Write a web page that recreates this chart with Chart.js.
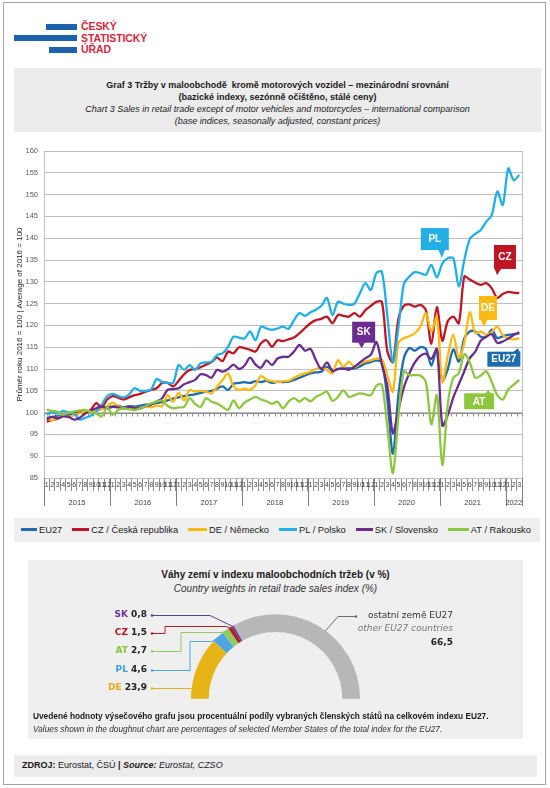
<!DOCTYPE html>
<html>
<head>
<meta charset="utf-8">
<script src="https://cdn.jsdelivr.net/npm/chart.js@4.4.1/dist/chart.umd.min.js"></script>
<style>
  body { margin: 0; background: #fff; }
  #page { position: relative; width: 550px; height: 788px; overflow: hidden;
          font-family: 'Liberation Sans', Arial, sans-serif; color: #1a1a1a; }
  .abs { position: absolute; }
  .frame { left: 3px; top: 2px; width: 541px; height: 781px; border: 1px solid #a6a6a6; }
  .bar { background: #1d62ad; height: 6px; }
  .logo { left: 81px; top: 21px; color: #d7263d; font-weight: bold; font-size: 10.5px; line-height: 11.5px; letter-spacing: -0.1px; }
  .band { background: #ececec; }
  .title { left: 14px; top: 68px; width: 527px; height: 64px; text-align: center; font-size: 9px; line-height: 11.7px; }
  .title .b { font-weight: bold; }
  .title .i { font-style: italic; }
  .legend { left: 14px; top: 518px; width: 526px; height: 24px; background: #efefef; font-size: 9.3px;
            display: flex; justify-content: space-between; align-items: center; box-sizing: border-box; padding: 0 9px 0 7px; }
  .lg { white-space: nowrap; }
  .lg i { display: inline-block; height: 2.5px; vertical-align: middle; margin-right: 2px; position: relative; top: -1px; }
  .weights { left: 28px; top: 560px; width: 495px; height: 179px; background: #efefef; }
  .wt1 { left: 0; top: 9px; width: 495px; text-align: center; font-weight: bold; font-size: 10px; }
  .wt2 { left: 0; top: 23px; width: 495px; text-align: center; font-style: italic; font-size: 10px; color: #333; }
  .note1 { left: 5px; top: 151px; font-weight: bold; font-size: 8.3px; white-space: nowrap; }
  .note2 { left: 5px; top: 164px; font-style: italic; font-size: 8.3px; color: #333; white-space: nowrap; }
  .source { left: 14px; top: 755px; width: 523px; height: 22px; background: #ececec; font-size: 9px; }
  .source span { position: absolute; left: 8px; top: 5px; white-space: nowrap; }
</style>
</head>
<body>
<div id="page">
  <div class="abs frame"></div>

  <div class="abs bar" style="left:46px;top:24px;width:31px;"></div>
  <div class="abs bar" style="left:14px;top:35px;width:63px;"></div>
  <div class="abs bar" style="left:49px;top:47px;width:28px;"></div>
  <div class="abs logo">ČESKÝ<br>STATISTICKÝ<br>ÚŘAD</div>

  <div class="abs band title">
    <div class="b" style="margin-top:12px">Graf 3 Tržby v maloobchodě&nbsp; kromě motorových vozidel – mezinárodní srovnání</div>
    <div class="b">(bazické indexy, sezónně očištěno, stálé ceny)</div>
    <div class="i" style="margin-top:1px">Chart 3 Sales in retail trade except of motor vehicles and motorcycles – international comparison</div>
    <div class="i">(base indices, seasonally adjusted, constant prices)</div>
  </div>

  <canvas id="lines" class="abs" width="550" height="370" style="left:0;top:140px;width:550px;height:370px;"></canvas>

  <div class="abs legend" id="legend"></div>

  <div class="abs weights">
    <div class="abs wt1">Váhy zemí v indexu maloobchodních tržeb (v %)</div>
    <div class="abs wt2">Country weights in retail trade sales index (%)</div>
    <canvas id="weights" class="abs" width="495" height="179" style="left:0;top:0;width:495px;height:179px;"></canvas>
    <div class="abs note1">Uvedené hodnoty výsečového grafu jsou procentuální podíly vybraných členských států na celkovém indexu EU27.</div>
    <div class="abs note2">Values shown in the doughnut chart are percentages of selected Member States of the total index for the EU27.</div>
  </div>

  <div class="abs source"><span><b>ZDROJ:</b> Eurostat, ČSÚ <b>|</b> <b><i>Source:</i></b> <i>Eurostat, CZSO</i></span></div>
</div>

<script>
// categories: monthly, Jan 2015 .. Mar 2022
const YEARS = [2015, 2016, 2017, 2018, 2019, 2020, 2021, 2022];
const MONTHS_PER_YEAR = [12, 12, 12, 12, 12, 12, 12, 3];
const MONTH_NUMBERS = [];
const MONTH_YEARS = [];
YEARS.forEach((year, k) => {
  for (let m = 1; m <= MONTHS_PER_YEAR[k]; m++) { MONTH_NUMBERS.push(m); MONTH_YEARS.push(year); }
});
const CATEGORIES = MONTH_NUMBERS.map((m, i) => MONTH_YEARS[i] + '-' + m);

// base indices, average of 2016 = 100
const EU27 = [
  98.8, 99.0, 99.2, 99.3, 99.6, 99.8, 100.0, 100.2, 100.4, 100.6, 100.9, 101.2,
  101.4, 101.6, 101.2, 101.5, 101.4, 101.6, 101.8, 102.0, 102.2, 102.4, 102.8, 103.2,
  103.5, 103.8, 104.0, 104.2, 104.5, 104.8, 105.0, 105.5, 106.0, 105.2, 106.6, 106.8,
  107.0, 106.8, 107.2, 107.0, 107.3, 106.8, 107.1, 107.0, 107.1, 107.5, 108.0, 108.5,
  109.0, 109.2, 109.4, 110.5, 109.8, 110.0, 110.1, 110.2, 110.1, 110.6, 111.3, 111.6,
  112.0, 111.5, 103.0, 90.6, 104.0, 112.5, 114.8, 114.2, 115.0, 114.6, 110.8, 114.6,
  107.3, 110.0, 114.5, 111.7, 117.0, 118.6, 118.6, 117.4, 117.4, 119.0, 117.1, 117.5,
  117.8, 118.0, 118.2
];
const CZ = [
  97.9, 98.3, 98.6, 99.2, 99.0, 99.6, 100.3, 100.0, 100.6, 102.2, 101.2, 103.0,
  103.8, 103.4, 103.0, 103.5, 104.0, 104.3, 104.8, 105.2, 105.6, 106.8, 106.8, 106.0,
  107.3, 108.8, 109.8, 110.0, 110.4, 111.0, 111.6, 112.6, 111.8, 114.0, 113.6, 115.0,
  114.8, 114.4, 114.0, 115.9, 116.6, 115.1, 116.6, 116.4, 116.8, 117.2, 118.2, 119.4,
  120.5, 121.2, 121.5, 122.0, 120.5, 122.4, 122.2, 122.0, 122.8, 122.0, 123.5, 124.5,
  125.4, 125.4, 114.0, 111.6, 121.5, 124.5, 124.8, 124.3, 124.7, 123.5, 115.8, 124.2,
  116.5, 121.0, 122.0, 120.5, 131.2, 130.5, 129.8, 129.3, 129.7, 128.5, 126.3, 127.2,
  127.7, 127.5, 127.4
];
const DE = [
  98.6, 98.3, 98.8, 99.3, 99.0, 99.5, 99.8, 100.2, 100.0, 100.5, 100.8, 101.5,
  102.3, 101.5, 101.0, 100.8, 101.2, 101.0, 101.4, 101.2, 101.6, 101.5, 104.0, 102.5,
  104.5, 102.8, 105.2, 104.8, 105.0, 104.8, 104.4, 106.0, 107.5, 109.0, 106.0, 105.2,
  105.5, 105.2, 106.3, 108.4, 107.5, 107.2, 107.0, 107.2, 107.3, 108.0, 108.6, 109.0,
  109.4, 110.0, 110.3, 109.8, 109.0, 112.0, 110.5, 111.7, 110.4, 111.3, 111.7, 112.0,
  112.4, 112.2, 108.5, 104.8, 116.0, 117.1, 117.5, 118.2, 119.7, 122.8, 118.6, 122.0,
  107.0, 113.0, 117.8, 112.5, 116.0, 123.0, 118.2, 118.6, 117.8, 118.5, 119.7, 117.8,
  117.0, 116.8, 117.1
];
const PL = [
  99.5, 100.2, 99.8, 100.4, 100.0, 99.8, 98.4, 98.8, 99.3, 100.2, 101.8, 103.8,
  104.3, 103.8, 103.5, 104.2, 105.6, 105.0, 105.0, 105.3, 107.7, 107.0, 106.8, 106.8,
  110.9, 109.8, 110.9, 109.8, 111.3, 111.5, 111.7, 113.2, 113.6, 115.1, 117.4, 117.2,
  117.0, 118.6, 116.6, 119.7, 119.3, 119.0, 119.3, 119.7, 119.2, 121.2, 122.8, 122.2,
  123.0, 123.6, 124.5, 126.3, 122.4, 125.4, 125.0, 124.7, 125.0, 127.4, 129.7, 128.1,
  132.0, 132.3, 122.0, 111.5, 119.5, 129.5, 131.2, 132.2, 132.0, 131.6, 133.9, 131.0,
  134.2, 135.4, 135.4, 128.9, 135.0, 139.8, 141.0, 141.9, 143.8, 145.3, 150.7, 147.6,
  156.0, 153.3, 154.5
];
const SK = [
  98.5, 99.0, 98.7, 99.2, 99.0, 98.4, 98.8, 99.8, 100.5, 101.0, 101.4, 101.0,
  101.3, 101.2, 101.0, 101.3, 101.1, 101.0, 101.5, 101.8, 102.5, 103.3, 105.2, 105.4,
  105.6, 106.5, 107.0, 107.5, 108.8, 108.6, 108.0, 109.8, 109.4, 110.0, 111.0, 110.0,
  110.8, 112.6, 111.0, 110.3, 112.0, 110.9, 112.4, 112.8, 112.8, 114.0, 115.5, 114.2,
  114.6, 112.0, 110.0, 111.5, 109.5, 110.0, 110.1, 109.8, 110.5, 111.5, 112.5, 113.3,
  116.2, 111.0, 106.0, 95.3, 100.5, 105.8, 109.0, 111.5, 113.0, 113.5, 112.3, 114.6,
  97.0, 99.5, 103.5, 106.5, 109.5, 112.5, 114.0, 116.5, 117.4, 118.0, 116.0, 116.3,
  117.0, 117.8, 118.4
];
const AT = [
  100.6, 100.4, 100.2, 99.5, 100.0, 100.3, 100.5, 100.6, 100.2, 99.8, 99.1, 101.3,
  99.5, 100.6, 101.0, 100.8, 100.6, 101.0, 101.5, 102.1, 102.5, 102.8, 101.5, 101.0,
  101.2, 101.3, 103.3, 102.0, 101.3, 103.3, 102.5, 102.1, 101.3, 100.6, 102.8, 101.0,
  102.3, 103.0, 103.6, 103.0, 102.6, 102.0, 102.5, 101.0, 102.5, 103.3, 102.5, 103.3,
  102.6, 103.6, 104.2, 104.8, 102.7, 103.6, 105.1, 103.6, 104.0, 104.4, 104.2, 104.0,
  106.2, 106.4, 96.5, 86.1, 99.0, 109.5, 108.6, 108.6, 108.5, 107.0, 97.3, 104.0,
  88.0, 102.0, 108.0, 109.0, 113.4, 111.5, 108.0, 108.5, 109.5, 107.0, 104.0, 103.0,
  105.3, 106.4, 107.5
];

const Y_MIN = 85;
const Y_MAX = 160;
const Y_STEP = 5;
const BASE_VALUE = 100;

// country weights in EU27 retail index (%)
const WEIGHT_CODES = ['DE', 'PL', 'AT', 'CZ', 'SK', 'ostatní země EU27'];
const WEIGHTS = [23.9, 4.6, 2.7, 1.5, 0.8, 66.5];

const FONT = "'Liberation Sans', Arial, sans-serif";
Chart.defaults.font.family = FONT;

const SERIES = [
  { code: 'EU27', legend: 'EU27', values: EU27, color: '#1c6cb2' },
  { code: 'CZ', legend: 'CZ / Česká republika', values: CZ, color: '#be1622' },
  { code: 'DE', legend: 'DE / Německo', values: DE, color: '#fbb912' },
  { code: 'PL', legend: 'PL / Polsko', values: PL, color: '#22afe6' },
  { code: 'SK', legend: 'SK / Slovensko', values: SK, color: '#6a2c8f' },
  { code: 'AT', legend: 'AT / Rakousko', values: AT, color: '#8dc63f' },
];
const colorOf = code => SERIES.find(s => s.code === code).color;

// legend (html)
const LEGEND_SWATCH = [16, 17, 19, 18, 17, 21];
document.getElementById('legend').innerHTML = SERIES.map((s, i) =>
  `<span class="lg"><i style="width:${LEGEND_SWATCH[i]}px;background:${s.color}"></i>${s.legend}</span>`
).join('');

// callout labels, placed in data units (month index, index value)
const CALLOUTS = [
  { code: 'PL', at: [70.63, 139.8], size: [28, 22], tip: [7, 19] },
  { code: 'CZ', at: [83.4, 135.7], size: [22, 24], tip: [-8, 18] },
  { code: 'DE', at: [80.3, 124.0], size: [18, 24], tip: [-4, 19] },
  { code: 'SK', at: [57.68, 118.44], size: [23, 21], tip: [-2, 16] },
  { code: 'EU27', at: [83.2, 112.25], size: [33, 15], tip: [14, -11] },
  { code: 'AT', at: [78.7, 102.6], size: [30, 16], tip: [9, -11] },
];

function seg(ctx, x1, y1, x2, y2) {
  ctx.beginPath(); ctx.moveTo(x1, y1); ctx.lineTo(x2, y2); ctx.stroke();
}

const axisDecor = {
  id: 'axisDecor',
  beforeDatasetsDraw(chart) {
    const { ctx, chartArea: a, scales: { x, y } } = chart;
    const n = CATEGORIES.length;
    const step = x.getPixelForValue(1) - x.getPixelForValue(0);
    ctx.save();
    ctx.lineWidth = 1;
    ctx.strokeStyle = '#bfbfbf';
    seg(ctx, Math.round(a.right) + 0.5, a.top, Math.round(a.right) + 0.5, a.bottom);
    // category axis crossing at 100
    const yb = Math.round(y.getPixelForValue(BASE_VALUE)) + 0.5;
    ctx.strokeStyle = '#8c8c8c';
    seg(ctx, a.left, yb, a.right, yb);
    for (let i = 0; i <= n; i++) {
      const bx = Math.round(x.getPixelForValue(i) - step / 2) + 0.5;
      seg(ctx, bx, yb, bx, yb + 3);
    }
    ctx.restore();
  },
  afterDraw(chart) {
    const { ctx, chartArea: a, scales: { x } } = chart;
    const n = CATEGORIES.length;
    const step = x.getPixelForValue(1) - x.getPixelForValue(0);
    ctx.save();
    ctx.strokeStyle = '#7f7f7f';
    ctx.lineWidth = 1;
    ctx.fillStyle = '#404040';
    ctx.font = '7.5px ' + FONT;
    ctx.textAlign = 'center';
    ctx.textBaseline = 'middle';
    let first = 0;
    YEARS.forEach((year, k) => {
      const last = first + MONTHS_PER_YEAR[k] - 1;
      const x0 = x.getPixelForValue(first) - step / 2;
      const x1 = x.getPixelForValue(last) + step / 2;
      const bx = Math.round(x0) + 0.5;
      seg(ctx, bx, a.bottom, bx, a.bottom + 28);
      if (last === n - 1) seg(ctx, Math.round(x1) + 0.5, a.bottom, Math.round(x1) + 0.5, a.bottom + 28);
      ctx.fillText(String(year), (x0 + x1) / 2, a.bottom + 25);
      first = last + 1;
    });
    ctx.restore();
  },
};

const callouts = {
  id: 'callouts',
  afterDatasetsDraw(chart) {
    const { ctx, scales: { x, y } } = chart;
    ctx.save();
    ctx.font = 'bold 10px ' + FONT;
    ctx.textAlign = 'center';
    ctx.textBaseline = 'middle';
    CALLOUTS.forEach(c => {
      const cx = x.getPixelForValue(c.at[0]);
      const cy = y.getPixelForValue(c.at[1]);
      const [w, h] = c.size;
      const l = cx - w / 2, t = cy - h / 2;
      const tx = cx + c.tip[0], ty = cy + c.tip[1];
      const baseY = c.tip[1] > 0 ? t + h - 0.5 : t + 0.5;
      const bx = Math.min(Math.max(tx, l + 4), l + w - 4);
      ctx.fillStyle = colorOf(c.code);
      ctx.fillRect(l, t, w, h);
      ctx.beginPath();
      ctx.moveTo(bx - 3.5, baseY);
      ctx.lineTo(tx, ty);
      ctx.lineTo(bx + 3.5, baseY);
      ctx.closePath();
      ctx.fill();
      ctx.fillStyle = '#ffffff';
      ctx.fillText(c.code, cx, cy + 0.5);
    });
    ctx.restore();
  },
};

new Chart(document.getElementById('lines'), {
  type: 'line',
  data: {
    labels: CATEGORIES,
    datasets: SERIES.map((s, i) => ({
      label: s.legend,
      data: s.values,
      borderColor: s.color,
      backgroundColor: s.color,
      borderWidth: 2.3,
      pointRadius: 0,
      tension: 0.3,
      fill: false,
      order: SERIES.length - i,
    })),
  },
  options: {
    responsive: false,
    animation: false,
    devicePixelRatio: 1,
    layout: { padding: { left: 14, right: 28, top: 11, bottom: 2 } },
    plugins: { legend: { display: false }, tooltip: { enabled: false } },
    scales: {
      x: {
        offset: true,
        grid: { offset: true, drawOnChartArea: false, tickLength: 13, color: '#8c8c8c' },
        border: { color: '#bfbfbf' },
        ticks: {
          autoSkip: false, maxRotation: 0, minRotation: 0, padding: -10,
          font: { size: 7 }, color: '#404040',
          callback: (value, index) => MONTH_NUMBERS[index],
        },
        afterFit: scale => { scale.height = 30; },
      },
      y: {
        min: Y_MIN,
        max: Y_MAX,
        ticks: { stepSize: Y_STEP, padding: 6, font: { size: 7.5 }, color: '#595959' },
        grid: { color: '#bfbfbf', drawTicks: false },
        border: { color: '#bfbfbf' },
        title: {
          display: true,
          text: 'Průměr roku 2016 = 100 | Average of 2016 = 100',
          font: { size: 8 }, color: '#1a1a1a', padding: { top: 1, bottom: 0 },
        },
        afterFit: scale => { scale.width = 30; },
      },
    },
  },
  plugins: [axisDecor, callouts],
});

// doughnut: labels with leader lines (canvas coordinates)
const WEIGHT_COLORS = ['#e6b417', '#4ea5e2', '#93c95e', '#b01f26', '#6b3996', '#b7b7b7'];
const CODE_COLORS = { DE: '#e2ab12', PL: '#3f9de0', AT: '#8cc63f', CZ: '#b8141f', SK: '#6f339c' };
const LABEL_FONT = "'DejaVu Sans', sans-serif";
const LABEL_RIGHT = 119;
const LEADERS = [
  { code: 'SK', y: 55, route: [[124, 55], [182, 55]] },
  { code: 'CZ', y: 73, route: [[124, 73], [137, 73], [137, 66], [198, 66]] },
  { code: 'AT', y: 91, route: [[124, 91], [153, 91], [153, 72], [194, 72]] },
  { code: 'PL', y: 110, route: [[124, 110], [162, 110], [162, 81], [184, 81]] },
  { code: 'DE', y: 128, route: [[124, 128]] },
];
const OTHER = { right: 425, lines: [56, 69, 83], route: [[328, 56], [310, 56]], frac: 0.55 };

const weightLabels = {
  id: 'weightLabels',
  afterDraw(chart) {
    const { ctx } = chart;
    const arcs = chart.getDatasetMeta(0).data;
    ctx.save();
    ctx.textBaseline = 'middle';
    ctx.lineWidth = 1;
    LEADERS.forEach(row => {
      const k = WEIGHT_CODES.indexOf(row.code);
      const p = arcs[k].getProps(['x', 'y', 'startAngle', 'endAngle', 'outerRadius'], true);
      const value = WEIGHTS[k].toFixed(1).replace('.', ',');
      ctx.font = 'bold 9px ' + LABEL_FONT;
      const wCode = ctx.measureText(row.code + ' ').width;
      const wVal = ctx.measureText(value).width;
      const x0 = LABEL_RIGHT - wCode - wVal;
      ctx.textAlign = 'left';
      ctx.fillStyle = CODE_COLORS[row.code];
      ctx.fillText(row.code, x0, row.y);
      ctx.fillStyle = '#222';
      ctx.fillText(value, x0 + wCode, row.y);
      let anchor;
      if (row.route.length === 1) {
        anchor = [p.x - Math.sqrt(p.outerRadius ** 2 - (p.y - row.y) ** 2), row.y];
      } else {
        const mid = (p.startAngle + p.endAngle) / 2;
        anchor = [p.x + Math.cos(mid) * p.outerRadius, p.y + Math.sin(mid) * p.outerRadius];
      }
      const pts = row.route.concat([anchor]);
      ctx.strokeStyle = WEIGHT_COLORS[k];
      ctx.fillStyle = WEIGHT_COLORS[k];
      ctx.beginPath();
      pts.forEach(([px, py], j) => (j ? ctx.lineTo(px, py + 0.5) : ctx.moveTo(px, py + 0.5)));
      ctx.stroke();
      ctx.beginPath(); ctx.arc(pts[0][0], pts[0][1] + 0.5, 1.3, 0, Math.PI * 2); ctx.fill();
    });

    // remaining EU27 countries
    const k = WEIGHT_CODES.length - 1;
    const p = arcs[k].getProps(['x', 'y', 'startAngle', 'endAngle', 'outerRadius'], true);
    const ang = p.startAngle + (p.endAngle - p.startAngle) * OTHER.frac;
    const anchor = [p.x + Math.cos(ang) * p.outerRadius, p.y + Math.sin(ang) * p.outerRadius];
    ctx.strokeStyle = '#6d6d6d';
    ctx.fillStyle = '#6d6d6d';
    ctx.beginPath();
    OTHER.route.concat([anchor]).forEach(([px, py], j) => (j ? ctx.lineTo(px, py + 0.5) : ctx.moveTo(px, py + 0.5)));
    ctx.stroke();
    ctx.beginPath(); ctx.arc(OTHER.route[0][0], OTHER.route[0][1] + 0.5, 1.3, 0, Math.PI * 2); ctx.fill();
    ctx.textAlign = 'right';
    ctx.font = '9px ' + LABEL_FONT;
    ctx.fillStyle = '#333';
    ctx.fillText('ostatní země EU27', OTHER.right, OTHER.lines[0]);
    ctx.font = 'italic 9px ' + LABEL_FONT;
    ctx.fillStyle = '#7a7a7a';
    ctx.fillText('other EU27 countries', OTHER.right, OTHER.lines[1]);
    ctx.font = 'bold 9px ' + LABEL_FONT;
    ctx.fillStyle = '#222';
    ctx.fillText(WEIGHTS[k].toFixed(1).replace('.', ','), OTHER.right, OTHER.lines[2]);
    ctx.restore();
  },
};

new Chart(document.getElementById('weights'), {
  type: 'doughnut',
  data: {
    labels: WEIGHT_CODES,
    datasets: [{ data: WEIGHTS, backgroundColor: WEIGHT_COLORS, borderWidth: 0 }],
  },
  options: {
    responsive: false,
    animation: false,
    devicePixelRatio: 1,
    rotation: -90,
    circumference: 180,
    cutout: '79%',
    layout: { padding: { left: 163, right: 163, top: 54, bottom: 40 } },
    plugins: { legend: { display: false }, tooltip: { enabled: false } },
  },
  plugins: [weightLabels],
});
</script>
</body>
</html>
